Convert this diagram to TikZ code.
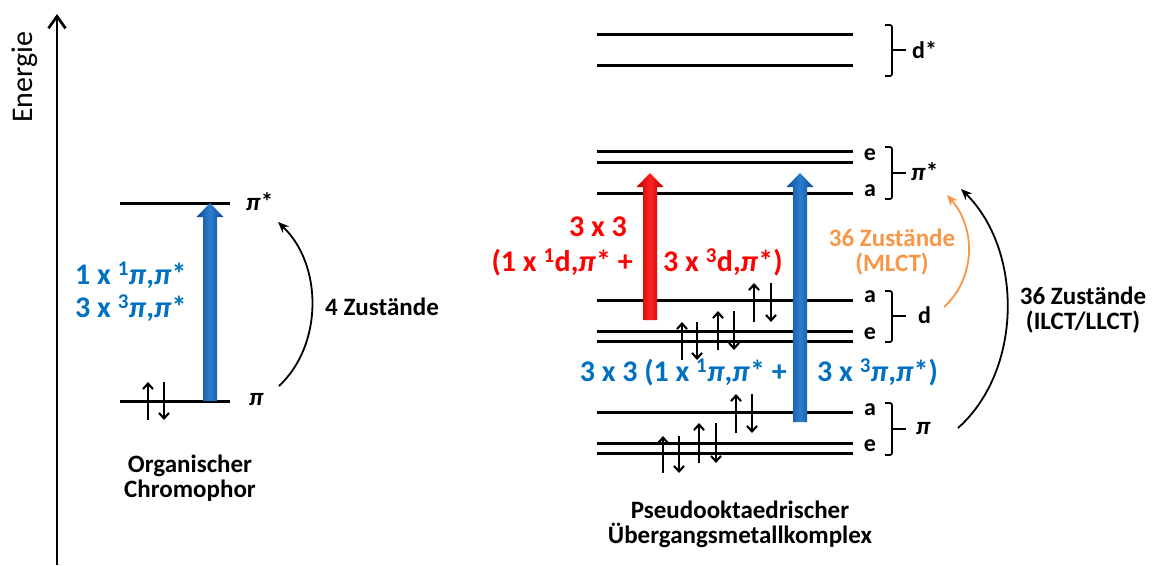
\documentclass[tikz,border=0pt]{standalone}
\usepackage{fontspec}
\setmainfont{Carlito}
\usetikzlibrary{arrows.meta}
\definecolor{txtblue}{RGB}{0,112,192}
\definecolor{arrblueD}{RGB}{10,75,150}
\definecolor{arrblueL}{RGB}{45,125,205}
\definecolor{arrredD}{RGB}{185,0,0}
\definecolor{arrredL}{RGB}{255,35,35}
\definecolor{txtred}{RGB}{255,0,0}
\definecolor{txtorange}{RGB}{247,150,70}
\newcommand\pis{\textit{π}}
\newcommand\fs[1]{\fontsize{#1}{#1}\selectfont}
\tikzset{
  lvl/.style={line width=3pt},
  elec/.style={line width=2.1pt,-{Straight Barb[length=5.5pt,width=10pt]}},
  brace/.style={line width=1.7pt,rounded corners=2pt},
  lbl/.style={font=\bfseries\fs{24}, inner sep=0pt},
  big/.style={font=\bfseries\fs{30}, inner sep=0pt},
  mid/.style={font=\bfseries\fs{25}, inner sep=0pt, align=center},
  curv/.style={line width=1.8pt,-{Stealth[length=11pt,width=9pt]}}
}
\newcommand\fatarrow[5]{% x, ybottom, ytip, dark, light
  \shade[left color=#4, right color=#4, middle color=#5]
    (#1-7,#2) -- (#1-7,#3+14) -- (#1-13.5,#3+14) -- (#1,#3) -- (#1+13.5,#3+14)
    -- (#1+7,#3+14) -- (#1+7,#2) -- cycle;}
\begin{document}
\begin{tikzpicture}[x=1pt,y=-1pt]
\useasboundingbox (0,0) rectangle (1155,565);
% energy axis
\coordinate (ax0) at (57,565);
\coordinate (ax1) at (57,14);
\draw[line width=2.7pt,-{Straight Barb[length=12pt,width=17pt]}] (ax0) -- (ax1);
\node[rotate=90,font=\fs{30},inner sep=0pt] (energie) at (25,77) {Energie};

% ---------- left: organic chromophore ----------
\draw[lvl] (120,203) -- (230,203);
\draw[lvl] (120,401) -- (230,401);
\fatarrow{210}{401}{203}{arrblueD}{arrblueL}
\draw[elec] (148,420) -- (148,382);
\draw[elec] (164,382) -- (164,420);
\node[font=\bfseries\fs{25},anchor=west,inner sep=0pt] (lpistar) at (246,202) {\pis*};
\node[font=\bfseries\fs{25},anchor=west,inner sep=0pt] (lpi) at (249,400) {\pis};
\node[big,text=txtblue,anchor=west] (lt1) at (75,275) {1 x \textsuperscript{1}\pis,\pis*};
\node[big,text=txtblue,anchor=west] (lt2) at (75,308) {3 x \textsuperscript{3}\pis,\pis*};
\coordinate (lc0) at (279,386);
\coordinate (lc1) at (278,222);
\draw[curv] (lc0) .. controls (323,345) and (323,265) .. (lc1);
\node[mid,anchor=west] (vier) at (325,307) {4 Zustände};
\node[mid] (org) at (190,478) {Organischer\\Chromophor};

% ---------- right: transition metal complex ----------
\foreach \y in {34,65,151,162,193,300,331,341,412,443,453}
  \draw[lvl] (597,\y) -- (853,\y);
% level labels
\node[lbl] (le1) at (870,155) {e};
\node[lbl] (la1) at (870,191) {a};
\node[lbl] (la2) at (870,297) {a};
\node[lbl] (le2) at (870,334) {e};
\node[lbl] (la3) at (870,410) {a};
\node[lbl] (le3) at (870,446) {e};
% braces
\draw[brace] (885,25) -- (892,25) -- (892,76) -- (885,76);
\draw[line width=1.7pt] (892,50) -- (906,50);
\node[lbl,anchor=west] (dstar) at (912,50) {d*};
\draw[brace] (885,147) -- (892,147) -- (892,199) -- (885,199);
\draw[line width=1.7pt] (892,173) -- (906,173);
\node[lbl,anchor=west,font=\bfseries\fs{25}] (pistar) at (911,172) {\pis*};
\draw[brace] (885,291) -- (892,291) -- (892,342) -- (885,342);
\draw[line width=1.7pt] (892,316) -- (906,316);
\node[lbl,anchor=west] (dlab) at (918,315) {d};
\draw[brace] (885,403) -- (892,403) -- (892,455) -- (885,455);
\draw[line width=1.7pt] (892,429) -- (906,429);
\node[lbl,anchor=west,font=\bfseries\fs{25}] (pilab) at (916,429) {\pis};
% electrons
\draw[elec] (754,322) -- (754,283);
\draw[elec] (771,283) -- (771,322);
\draw[elec] (682,360) -- (682,322);
\draw[elec] (697,322) -- (697,360);
\draw[elec] (718,350) -- (718,311);
\draw[elec] (734,311) -- (734,350);
\draw[elec] (736,433) -- (736,394);
\draw[elec] (752,394) -- (752,433);
\draw[elec] (663,473) -- (663,436);
\draw[elec] (679,436) -- (679,473);
\draw[elec] (699,463) -- (699,423);
\draw[elec] (716,423) -- (716,463);
% fat arrows
\fatarrow{650}{320}{173}{arrredD}{arrredL}
\fatarrow{800}{422}{173}{arrblueD}{arrblueL}
% red text
\node[big,text=txtred] (r1) at (598,227) {3 x 3};
\node[big,text=txtred,anchor=east] (r2) at (633,262) {(1 x \textsuperscript{1}d,\pis* +};
\node[big,text=txtred,anchor=west] (r3) at (663,262) {3 x \textsuperscript{3}d,\pis*)};
% blue text
\node[big,text=txtblue,anchor=east] (b1) at (787,372) {3 x 3 (1 x \textsuperscript{1}\pis,\pis* +};
\node[big,text=txtblue,anchor=west] (b2) at (817,372) {3 x \textsuperscript{3}\pis,\pis*)};
% orange MLCT
\coordinate (oc0) at (944,307);
\coordinate (oc1) at (947,195);
\draw[curv,txtorange] (oc0) .. controls (976,278) and (976,228) .. (oc1);
\node[mid,text=txtorange] (mlct) at (892,252) {36 Zustände\\(MLCT)};
% black ILCT
\coordinate (bc0) at (958,428);
\coordinate (bc1) at (961,189);
\draw[curv] (bc0) .. controls (1023,370) and (1023,250) .. (bc1);
\node[mid] (ilct) at (1083,310) {36 Zustände\\(ILCT/LLCT)};
\node[mid] (tm) at (740,524) {Pseudooktaedrischer\\Übergangsmetallkomplex};
\end{tikzpicture}
\end{document}
